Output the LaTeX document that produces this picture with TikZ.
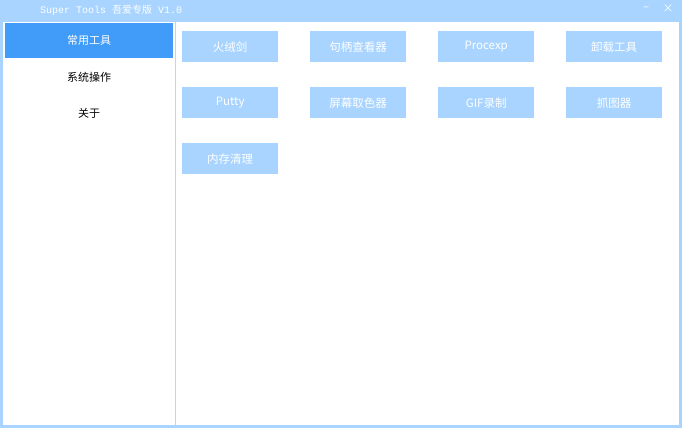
\documentclass[tikz,border=0pt]{standalone}
\usepackage{fontspec}
\usetikzlibrary{positioning}
\setmainfont{Noto Sans CJK SC}
\newfontfamily\titlefont{Liberation Mono}
\newfontfamily\cjkfont{Noto Sans CJK SC}
\definecolor{lightblue}{HTML}{A8D4FF}
\definecolor{selblue}{HTML}{409CF8}
\definecolor{sepline}{HTML}{B8D8F8}

\tikzset{
  toolbtn/.style={fill=lightblue, text=white, minimum width=96pt, minimum height=31pt,
    inner sep=0pt, anchor=north west, font=\fontsize{11.5pt}{13pt}\selectfont},
  menuitem/.style={text=black, minimum width=168pt, minimum height=35pt,
    inner sep=0pt, anchor=north west, font=\fontsize{11pt}{13pt}\selectfont}
}

\begin{document}
\begin{tikzpicture}[x=1pt,y=-1pt]
  \useasboundingbox (0,0) rectangle (683,441);
  \fill[white] (0,0) rectangle (683,441);
  % window
  \fill[lightblue] (0,0) rectangle (682,428);
  \fill[white] (3,22) rectangle (679,425);
  \draw[sepline, line width=1pt] (175.5,22) -- (175.5,425);
  % title bar
  \node[text=white, anchor=west, inner sep=0pt, font=\titlefont\fontsize{10pt}{12pt}\selectfont] (title) at (40,10)
    {Super Tools {\cjkfont 吾爱专版} V1.0};
  \node[text=white, inner sep=0pt, font=\fontsize{11pt}{12pt}\selectfont] (minbtn) at (646,9) {–};
  \node[text=white, inner sep=0pt, font=\fontsize{11pt}{12pt}\selectfont] (closebtn) at (668,9) {×};
  % sidebar
  \node[menuitem, fill=selblue, text=white] (common) at (5,23) {常用工具};
  \node[menuitem] (sysop) at (5,60) {系统操作};
  \node[menuitem] (about) at (5,96) {关于};
  % tool buttons
  \node[toolbtn] (huorong) at (182,31) {火绒剑};
  \node[toolbtn] (handle)  at (310,31) {句柄查看器};
  \node[toolbtn] (procexp) at (438,31) {Procexp};
  \node[toolbtn] (uninst)  at (566,31) {卸载工具};
  \node[toolbtn] (putty)   at (182,87) {Putty};
  \node[toolbtn] (picker)  at (310,87) {屏幕取色器};
  \node[toolbtn] (gifrec)  at (438,87) {GIF录制};
  \node[toolbtn] (grab)    at (566,87) {抓图器};
  \node[toolbtn] (memclr)  at (182,143) {内存清理};
\end{tikzpicture}
\end{document}
